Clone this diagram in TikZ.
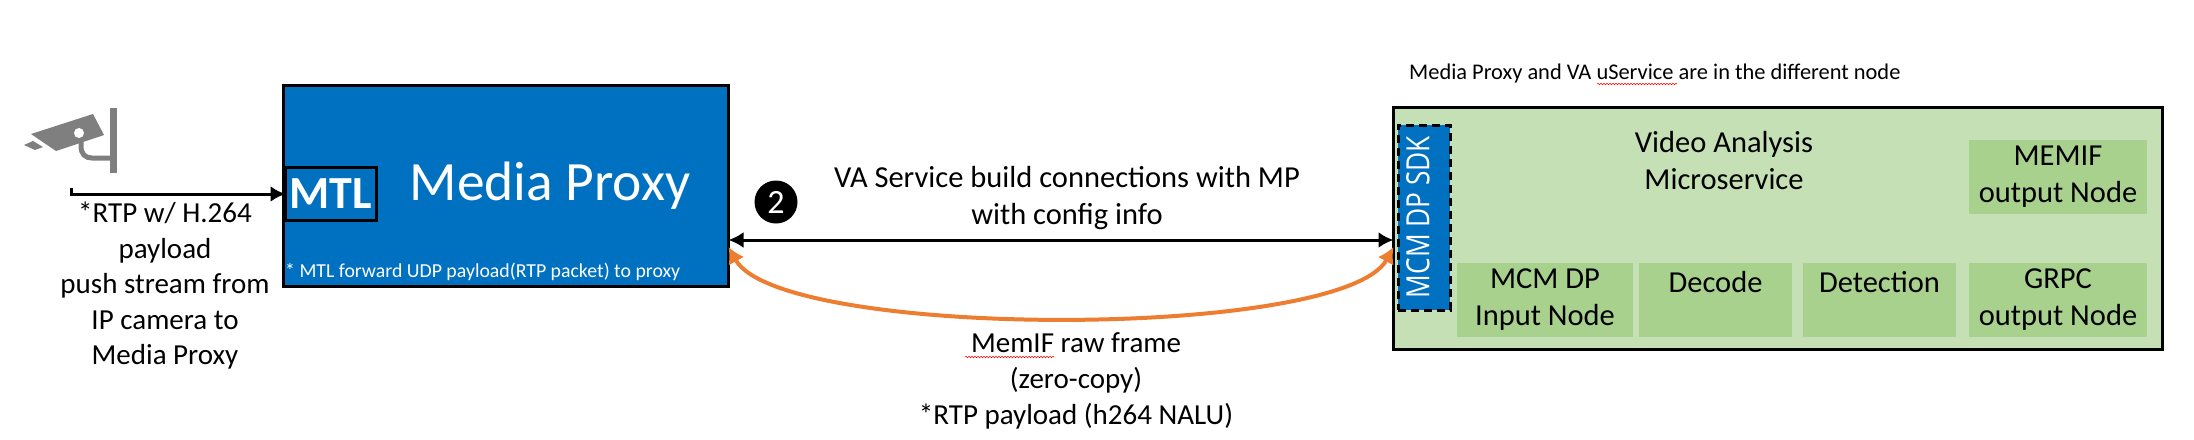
\documentclass[tikz,border=0pt]{standalone}
\usepackage{fontspec}
\setmainfont{Carlito}
\newfontfamily\sdkfont[FakeStretch=0.82]{Open Sans}
\usetikzlibrary{arrows.meta,calc,positioning,decorations.pathmorphing}
\definecolor{mpblue}{HTML}{0070C0}
\definecolor{valight}{HTML}{C5E0B4}
\definecolor{vanode}{HTML}{A9D18E}
\definecolor{linkorange}{HTML}{ED7D31}
\definecolor{camgray}{HTML}{7F7F7F}
\tikzset{
        block/.style = {draw, rectangle, line width=3pt, inner sep=0pt, outer sep=0pt},
        stage/.style = {rectangle, fill=vanode, inner sep=0pt, outer sep=0pt,
            minimum height=74pt, align=center,
            font=\fontsize{30.5}{37}\selectfont},
        caption/.style = {inner sep=0pt, align=center,
            font=\fontsize{29}{35.5}\selectfont},
        wide/.style = {font=\fontsize{30.5}{37}\selectfont},
        tipblack/.tip = {Latex[length=15pt,width=16pt]},
        tiporange/.tip = {Latex[length=16pt,width=18pt]},
        arrow/.style = {draw, -tipblack, line width=3pt},
        memlink/.style = {draw=linkorange, tiporange-tiporange, line width=4pt},
        squiggle/.style = {draw=red, line width=0.5pt,
            decorate, decoration={snake, amplitude=0.8pt, segment length=3pt}},
    }

\begin{document}
\begin{tikzpicture}[x=1pt,y=-1pt]
    \useasboundingbox (0,0) rectangle (2194,439);

    % media proxy
    \node[block, fill=mpblue, minimum width=445pt, minimum height=201pt] (mp) at (506,186) {};
    \node[block, minimum width=91pt, minimum height=53pt, text=white,
          font=\fontsize{46}{46}\bfseries\selectfont] (mtl) at (331,194) {MTL};
    \node[inner sep=0pt, text=white, font=\fontsize{55.5}{55.5}\selectfont] (mplabel) at (550,186) {Media Proxy};
    \node[inner sep=0pt, text=white, anchor=west, font=\fontsize{19.8}{20}\selectfont] (mtlnote) at (285,272)
        {* MTL forward UDP payload(RTP packet) to proxy};

    % camera
    \fill[camgray] (31,134) -- (93,114) -- (104,135) -- (56,151) -- cycle;
    \fill[camgray] (24,145) -- (33,141) -- (43,147) -- (35,150) -- cycle;
    \fill[white] (79,133) circle (5pt);
    \draw[camgray, line width=5pt] (81,138) -- (81,146) .. controls (81,154) and (85,158) .. (92,158) -- (113,158);
    \fill[camgray] (110,108) rectangle (117,173);
    \coordinate (camfoot) at (71,188);
    \node[caption] (camtext) at (165,286) {*RTP w/ H.264\\payload\\push stream from\\IP camera to\\Media Proxy};

    % VA service
    \node[block, fill=valight, minimum width=769pt, minimum height=242pt] (va) at (1778,228.5) {};
    \node[inner sep=0pt, anchor=west, font=\fontsize{22.4}{23}\selectfont] (vanote) at (1409,74)
        {Media Proxy and VA uService are in the different node};
    \node[caption, wide] (vatext) at (1724,161) {Video Analysis\\Microservice};
    \node[stage, minimum width=176pt, anchor=north west] (input) at (1457,263) {MCM DP\\Input Node};
    \node[stage, minimum width=153pt, right=6pt of input] (decode) {Decode\\~};
    \node[stage, minimum width=153pt, right=11pt of decode] (detect) {Detection\\~};
    \node[stage, minimum width=178pt, right=13pt of detect] (grpc) {GRPC\\output Node};
    \node[stage, minimum width=178pt, above=49pt of grpc] (memif) {MEMIF\\output Node};
    \node[draw, dash pattern=on 8pt off 5pt, line width=3pt, fill=mpblue, minimum width=52pt, minimum height=185pt,
          inner sep=0pt, outer sep=0pt] (sdk) at (1424,217.5) {};
    \node[rotate=90, inner sep=0pt, text=white, font=\sdkfont\fontsize{32}{32}\selectfont] (sdktext) at (1418,217) {MCM DP SDK};

    % links
    \coordinate (direct) at (0,240);
    \coordinate (shared) at (0,247);
    \draw[arrow] (camfoot) |- (mtl.west);
    \draw[arrow, tipblack-tipblack] (mp.east |- direct) -- (va.west |- direct);
    \draw[memlink] (mp.east |- shared) .. controls (780,340) and (1343,340) .. (va.west |- shared);

    \node[circle, fill=black, text=white, minimum size=43pt, inner sep=0pt,
          font=\fontsize{34}{34}\selectfont] (badge) at (776,202) {2};
    \node[caption, wide] (linktext) at (1067,198) {VA Service build connections with MP\\with config info};
    \node[caption, font=\fontsize{29}{36}\selectfont] (memtext) at (1076,381) {MemIF raw frame\\(zero-copy)\\*RTP payload (h264 NALU)};

    % spell check marks
    \draw[squiggle] (965,357) -- (1054,357);
    \draw[squiggle] (1597,84) -- (1677,84);
\end{tikzpicture}
\end{document}
